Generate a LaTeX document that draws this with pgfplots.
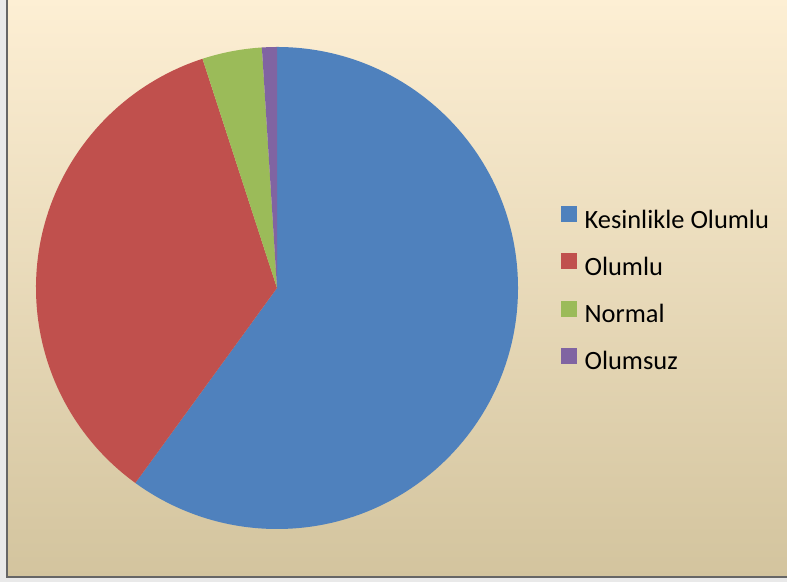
\documentclass[border=0pt]{standalone}
\usepackage{pgfplots}
\pgfplotsset{compat=1.18}
\usepackage{pgfplotstable}
\usepackage{fontspec}
\setmainfont{Carlito}
\definecolor{pie0}{HTML}{4F81BD}
\definecolor{pie1}{HTML}{C0504D}
\definecolor{pie2}{HTML}{9BBB59}
\definecolor{pie3}{HTML}{8064A2}
\definecolor{bgtop}{HTML}{FDEFD4}
\definecolor{bgbot}{HTML}{D3C49E}
\definecolor{outer}{HTML}{E9E9E9}
\pgfplotstableread{
label value
{Kesinlikle Olumlu} 60
Olumlu 35
Normal 4
Olumsuz 1
}\piedata
\begin{document}
\begin{tikzpicture}
\begin{axis}[
  hide axis,
  x=1bp, y=1bp,
  xmin=0, xmax=787, ymin=0, ymax=582,
  clip=true,
  legend style={
    at={(axis cs:561,376)}, anchor=north west,
    draw=none, fill=none, inner sep=0pt,
    font=\fontsize{26.5}{30}\selectfont,
    row sep=20bp,
    nodes={inner sep=0pt, text height=18bp, text depth=5bp},
    cells={anchor=west},
    /tikz/every odd column/.append style={column sep=8bp},
  },
  legend image code/.code={\fill[#1] (0bp,0.5bp) rectangle (15bp,15.5bp);},
]
% background
\fill[outer] (axis cs:0,0) rectangle (axis cs:787,582);
\fill[top color=bgtop, bottom color=bgbot, draw=gray!80!black, line width=1.5bp]
  (axis cs:7,5) rectangle (axis cs:800,583);
% pie wedges from the table
\gdef\cumul{0}
\pgfplotsinvokeforeach{0,1,2,3}{%
  \pgfplotstablegetelem{#1}{value}\of\piedata
  \pgfmathsetmacro\angA{90-3.6*\cumul}%
  \pgfmathsetmacro\newcum{\cumul+\pgfplotsretval}%
  \pgfmathsetmacro\angB{90-3.6*\newcum}%
  \xdef\cumul{\newcum}%
  \edef\temp{\noexpand\fill[pie#1] (axis cs:277,294) -- ++(\angA:241bp) arc[start angle=\angA, end angle=\angB, radius=241bp] -- cycle;}%
  \temp
}
\addlegendimage{pie0}\addlegendentry{Kesinlikle Olumlu}
\addlegendimage{pie1}\addlegendentry{Olumlu}
\addlegendimage{pie2}\addlegendentry{Normal}
\addlegendimage{pie3}\addlegendentry{Olumsuz}
\end{axis}
\end{tikzpicture}
\end{document}
